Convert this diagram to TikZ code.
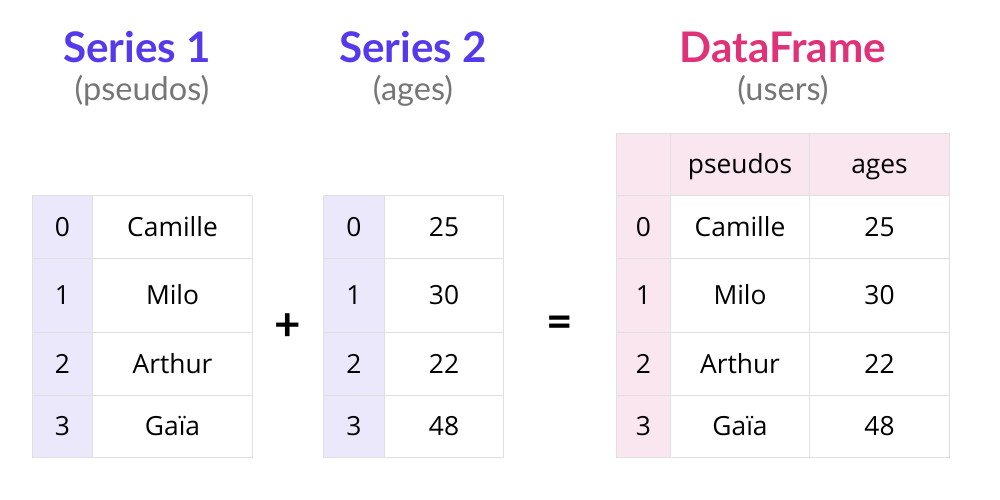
\documentclass[tikz,border=0pt]{standalone}
\usepackage{fontspec}
\setmainfont{Open Sans}
\newfontfamily\titlefont{Lato}
\usetikzlibrary{positioning}

\definecolor{seriesblue}{RGB}{84,58,235}
\definecolor{framepink}{RGB}{224,50,120}
\definecolor{subgray}{RGB}{118,118,118}
\definecolor{gridgray}{RGB}{224,224,224}
\definecolor{idxblue}{RGB}{234,232,250}
\definecolor{idxpink}{RGB}{250,230,239}

\tikzstyle{cell} = [rectangle, draw=gridgray, line width=0.6pt, anchor=north west, inner sep=0pt, text height=10.6pt, text depth=0pt, font=\fontsize{15}{18}\selectfont]
\tikzstyle{rowh} = [minimum height=12.4mm]
\tikzstyle{rowa} = [minimum height=12.6mm]
\tikzstyle{rowb} = [minimum height=14.8mm]
\tikzstyle{rowc} = [minimum height=12.6mm]
\tikzstyle{rowd} = [minimum height=12.4mm]
\tikzstyle{title} = [text height=17pt, text depth=0pt, font=\titlefont\bfseries\fontsize{24}{28}\selectfont]
\tikzstyle{subtitle} = [anchor=base, text=subgray, font=\titlefont\fontsize{18.5}{22}\selectfont]
\tikzstyle{op} = [font=\titlefont\bfseries\fontsize{26}{30}\selectfont]

\begin{document}
\begin{tikzpicture}[x=0.2mm, y=-0.2mm]
    \useasboundingbox (0,0) rectangle (1000,500);

    % titles
    \node (t1) [title, text=seriesblue] at (137,48) {Series 1};
    \node (st1) [subtitle] at (142,100) {(pseudos)};
    \node (t2) [title, text=seriesblue] at (413,48) {Series 2};
    \node (st2) [subtitle] at (413,100) {(ages)};
    \node (t3) [title, text=framepink] at (783,48) {DataFrame};
    \node (st3) [subtitle] at (783,100) {(users)};

    % series 1
    \node (a0) [cell, rowa, fill=idxblue, minimum width=12mm] at (32,195) {0};
    \node (a1) [cell, rowb, fill=idxblue, minimum width=12mm] at (32,258) {1};
    \node (a2) [cell, rowc, fill=idxblue, minimum width=12mm] at (32,332) {2};
    \node (a3) [cell, rowd, fill=idxblue, minimum width=12mm] at (32,395) {3};
    \node (pa0) [cell, rowa, minimum width=32mm] at (92,195) {Camille};
    \node (pa1) [cell, rowb, minimum width=32mm] at (92,258) {Milo};
    \node (pa2) [cell, rowc, minimum width=32mm] at (92,332) {Arthur};
    \node (pa3) [cell, rowd, minimum width=32mm] at (92,395) {Gaïa};

    \node (plus) [op] at (288,327) {+};

    % series 2
    \node (b0) [cell, rowa, fill=idxblue, minimum width=12.2mm] at (323,195) {0};
    \node (b1) [cell, rowb, fill=idxblue, minimum width=12.2mm] at (323,258) {1};
    \node (b2) [cell, rowc, fill=idxblue, minimum width=12.2mm] at (323,332) {2};
    \node (b3) [cell, rowd, fill=idxblue, minimum width=12.2mm] at (323,395) {3};
    \node (ab0) [cell, rowa, minimum width=23.8mm] at (384,195) {25};
    \node (ab1) [cell, rowb, minimum width=23.8mm] at (384,258) {30};
    \node (ab2) [cell, rowc, minimum width=23.8mm] at (384,332) {22};
    \node (ab3) [cell, rowd, minimum width=23.8mm] at (384,395) {48};

    \node (equal) [op] at (560,327) {=};

    % dataframe
    \node (ch) [cell, rowh, fill=idxpink, minimum width=10.8mm] at (616,133) {};
    \node (c0) [cell, rowa, fill=idxpink, minimum width=10.8mm] at (616,195) {0};
    \node (c1) [cell, rowb, fill=idxpink, minimum width=10.8mm] at (616,258) {1};
    \node (c2) [cell, rowc, fill=idxpink, minimum width=10.8mm] at (616,332) {2};
    \node (c3) [cell, rowd, fill=idxpink, minimum width=10.8mm] at (616,395) {3};
    \node (pch) [cell, rowh, fill=idxpink, minimum width=27.8mm] at (670,133) {pseudos};
    \node (pc0) [cell, rowa, minimum width=27.8mm] at (670,195) {Camille};
    \node (pc1) [cell, rowb, minimum width=27.8mm] at (670,258) {Milo};
    \node (pc2) [cell, rowc, minimum width=27.8mm] at (670,332) {Arthur};
    \node (pc3) [cell, rowd, minimum width=27.8mm] at (670,395) {Gaïa};
    \node (ach) [cell, rowh, fill=idxpink, minimum width=28mm] at (809,133) {ages};
    \node (ac0) [cell, rowa, minimum width=28mm] at (809,195) {25};
    \node (ac1) [cell, rowb, minimum width=28mm] at (809,258) {30};
    \node (ac2) [cell, rowc, minimum width=28mm] at (809,332) {22};
    \node (ac3) [cell, rowd, minimum width=28mm] at (809,395) {48};

\end{tikzpicture}
\end{document}
